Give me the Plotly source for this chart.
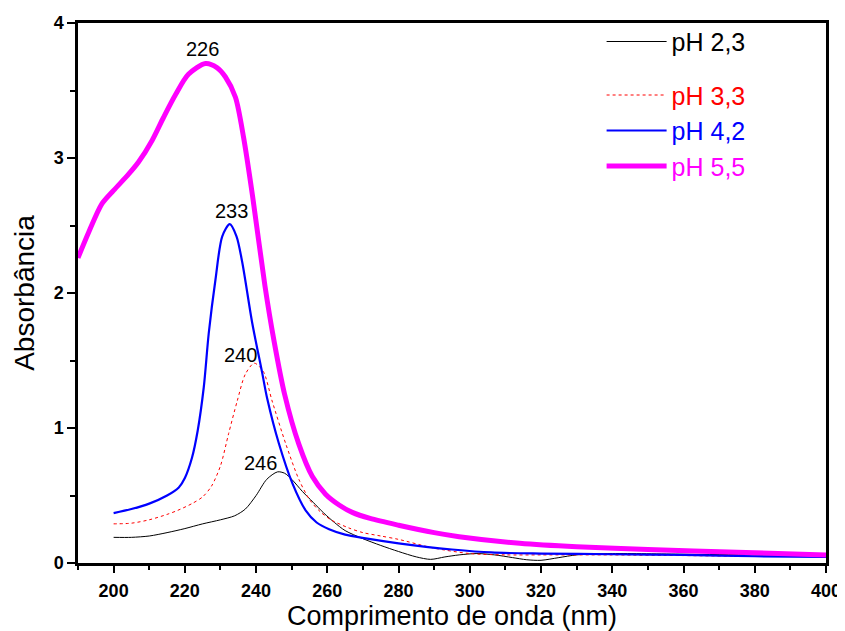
import plotly.graph_objects as go

# pH 2,3
x_ph23 = [200, 205, 210, 215, 220, 225, 230, 234, 237, 240, 243, 246, 248, 250, 253, 256, 259, 262, 265, 270, 275, 280, 285, 289, 293, 297, 302, 307, 312, 316, 320, 325, 330, 340, 360, 380, 400]
y_ph23 = [0.19, 0.19, 0.20, 0.225, 0.255, 0.29, 0.32, 0.35, 0.40, 0.50, 0.62, 0.675, 0.665, 0.62, 0.53, 0.45, 0.37, 0.30, 0.24, 0.18, 0.13, 0.085, 0.045, 0.027, 0.045, 0.06, 0.07, 0.06, 0.04, 0.024, 0.02, 0.04, 0.06, 0.07, 0.065, 0.06, 0.055]

# pH 3,3
x_ph33 = [200, 205, 210, 215, 218, 222, 225, 227.5, 230, 232.3, 234.7, 237, 239.5, 242, 244.5, 248.3, 252, 255, 258, 261, 266, 270, 275, 280, 290, 300, 310, 320, 340, 360, 380, 400]
y_ph33 = [0.29, 0.295, 0.32, 0.36, 0.39, 0.44, 0.49, 0.57, 0.72, 0.96, 1.2, 1.40, 1.48, 1.42, 1.2, 0.885, 0.62, 0.47, 0.38, 0.32, 0.26, 0.225, 0.20, 0.175, 0.11, 0.07, 0.06, 0.06, 0.06, 0.055, 0.05, 0.05]

# pH 4,2
x_ph42 = [200, 205, 210, 215, 218.3, 220, 222, 223.6, 225.3, 226.7, 228.6, 230.5, 232.6, 234.5, 236.1, 238.9, 241.7, 243.1, 246.4, 250.2, 253.9, 257, 260.5, 265, 270.8, 280, 287.7, 295, 306, 320, 340, 360, 380, 400]
y_ph42 = [0.37, 0.40, 0.44, 0.50, 0.56, 0.63, 0.78, 0.98, 1.30, 1.70, 2.10, 2.42, 2.51, 2.42, 2.23, 1.78, 1.41, 1.22, 0.885, 0.59, 0.39, 0.30, 0.25, 0.21, 0.183, 0.146, 0.12, 0.10, 0.078, 0.07, 0.065, 0.06, 0.05, 0.045]

# pH 5,5
x_ph55 = [190, 193, 196.7, 200, 204.2, 207, 210.8, 214, 217.4, 221, 225.8, 229, 231.4, 234.2, 236.5, 239, 242.5, 245, 248, 252, 255.8, 259.5, 263.3, 267, 272, 280, 290, 297, 314, 330, 350, 375, 400]
y_ph55 = [2.26, 2.45, 2.66, 2.76, 2.88, 2.97, 3.13, 3.30, 3.47, 3.62, 3.70, 3.67, 3.60, 3.45, 3.15, 2.72, 2.05, 1.65, 1.25, 0.88, 0.64, 0.51, 0.43, 0.375, 0.33, 0.28, 0.225, 0.195, 0.146, 0.12, 0.10, 0.08, 0.06]

peak_labels = ["226", "233", "240", "246"]
peak_x = [225.0, 233.0, 235.6, 241.3]
peak_y = [3.81, 2.61, 1.54, 0.74]

FONT = "Liberation Sans, Arial, sans-serif"

fig = go.Figure()
fig.add_trace(go.Scatter(x=x_ph23, y=y_ph23, mode="lines", name="<span style='color:#000000'>pH 2,3</span>",
                         line=dict(color="#000000", width=1, shape="spline", smoothing=0.8), legendgroup="g1"))
fig.add_trace(go.Scatter(x=x_ph33, y=y_ph33, mode="lines", name="<span style='color:#FF0000'>pH 3,3</span>",
                         line=dict(color="#FF0000", width=1, dash="3px,3px", shape="spline", smoothing=0.8), legendgroup="g2"))
fig.add_trace(go.Scatter(x=x_ph42, y=y_ph42, mode="lines", name="<span style='color:#0000FF'>pH 4,2</span>",
                         line=dict(color="#0000FF", width=2.2, shape="spline", smoothing=0.8), legendgroup="g2"))
fig.add_trace(go.Scatter(x=x_ph55, y=y_ph55, mode="lines", name="<span style='color:#FF00FF'>pH 5,5</span>",
                         line=dict(color="#FF00FF", width=5, shape="spline", smoothing=0.8), legendgroup="g2"))

for t, xv, yv in zip(peak_labels, peak_x, peak_y):
    fig.add_annotation(x=xv, y=yv, text=t, showarrow=False, xanchor="center", yanchor="middle",
                       font=dict(family=FONT, size=20, color="black"))

fig.update_layout(
    width=837, height=623,
    margin=dict(l=70, r=19, t=14, b=68),
    paper_bgcolor="white", plot_bgcolor="white",
    font=dict(family=FONT, color="black"),
    showlegend=True,
    legend=dict(x=0.70, y=1.006, xanchor="left", yanchor="top", bgcolor="rgba(0,0,0,0)",
                font=dict(family=FONT, size=25), tracegroupgap=18, itemwidth=60,
                traceorder="grouped"),
    xaxis=dict(range=[190, 400], tick0=200, dtick=20, showgrid=False, zeroline=False, automargin=False,
               showline=True, linecolor="black", linewidth=2.5, mirror=True,
               ticks="outside", ticklen=7, tickwidth=2, tickcolor="black", ticklabelstandoff=3,
               minor=dict(dtick=10, tick0=190, ticks="outside", ticklen=4, tickwidth=2, tickcolor="black", showgrid=False),
               tickfont=dict(family=FONT, size=18, weight="bold"),
               title=dict(text="Comprimento de onda (nm)", font=dict(family=FONT, size=27), standoff=13)),
    yaxis=dict(range=[0, 4], tick0=0, dtick=1, showgrid=False, zeroline=False, automargin=False,
               showline=True, linecolor="black", linewidth=2.5, mirror=True,
               ticks="outside", ticklen=8, tickwidth=2, tickcolor="black",
               minor=dict(dtick=0.5, ticks="outside", ticklen=5, tickwidth=2, tickcolor="black", showgrid=False),
               tickfont=dict(family=FONT, size=18, weight="bold"),
               title=dict(text="Absorbância", font=dict(family=FONT, size=28), standoff=11)),
)

fig.write_html("out.html")
